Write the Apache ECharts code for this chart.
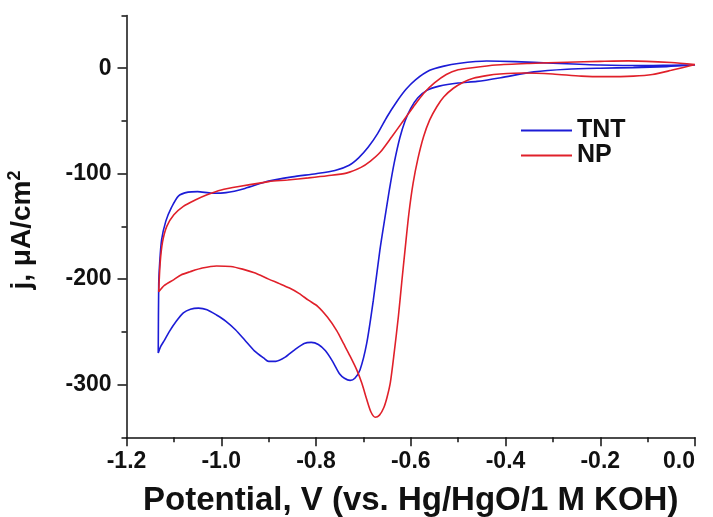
<!DOCTYPE html>
<html>
<head>
<meta charset="utf-8">
<script src="https://cdn.jsdelivr.net/npm/echarts@6/dist/echarts.min.js"></script>
<style>
  html, body { margin: 0; padding: 0; background: #fff; }
  #chart { width: 713px; height: 517px; }
</style>
</head>
<body>
<div id="chart"></div>
<script>
// potential (V) and current density (uA/cm2), each loop traced from 0.0 V
var tntV = [0, -0.05, -0.1, -0.2, -0.3, -0.38, -0.44, -0.5, -0.53, -0.56, -0.59, -0.61, -0.63, -0.65, -0.67, -0.69, -0.71, -0.73, -0.76, -0.8, -0.85, -0.9, -0.95, -0.99, -1.02, -1.05, -1.07, -1.09, -1.105, -1.117, -1.126, -1.13, -1.132, -1.133,
  -1.128, -1.12, -1.11, -1.095, -1.08, -1.065, -1.048, -1.03, -1.01, -0.99, -0.97, -0.95, -0.93, -0.91, -0.9, -0.885, -0.865, -0.845, -0.825, -0.81, -0.795, -0.78, -0.765, -0.75, -0.74, -0.728, -0.718, -0.707, -0.693, -0.679, -0.665, -0.655, -0.645, -0.635, -0.623, -0.612, -0.6, -0.585, -0.566, -0.54, -0.5, -0.46, -0.41, -0.34, -0.27, -0.2, -0.13, -0.06, 0]
var tntJ = [3, 2.8, 2.5, 3, 4.7, 6.3, 6.8, 4.5, 2, -2, -11, -20, -32, -46, -62, -75, -85, -92, -97, -100, -103, -107, -114, -118, -118.5, -117, -117.5, -121, -132, -145, -163, -185, -205, -270,
  -264, -258, -250, -240, -232, -228.5, -227.5, -229, -234, -240, -248, -258, -268, -275, -278, -278, -274, -267, -261, -260, -262, -268, -278, -290, -294, -296, -294, -286, -261, -220, -172, -143, -115, -90, -66, -50, -38, -28, -21, -17, -14, -12.5, -9, -3.5, -1, 0, 0.6, 1.5, 3]

var npV = [0, -0.05, -0.14, -0.2, -0.27, -0.35, -0.42, -0.47, -0.5, -0.525, -0.55, -0.573, -0.595, -0.616, -0.64, -0.665, -0.685, -0.705, -0.736, -0.776, -0.816, -0.86, -0.9, -0.96, -1.0, -1.03, -1.055, -1.08, -1.1, -1.115, -1.124, -1.129, -1.132,
  -1.12, -1.1, -1.085, -1.066, -1.04, -1.01, -0.98, -0.955, -0.93, -0.9, -0.876, -0.856, -0.836, -0.816, -0.796, -0.776, -0.756, -0.742, -0.728, -0.714, -0.703, -0.693, -0.684, -0.675, -0.666, -0.657, -0.65, -0.643, -0.635, -0.626, -0.619, -0.612, -0.604, -0.595, -0.585, -0.573, -0.56, -0.545, -0.53, -0.51, -0.49, -0.468, -0.44, -0.412, -0.36, -0.3, -0.24, -0.19, -0.13, -0.09, -0.05, 0]
var npJ = [3.5, 5.5, 7, 6.5, 5.7, 4.5, 3, 0.5, -1.5, -6, -14, -24, -37, -50, -65, -80, -88, -94, -99.5, -102, -104, -106, -107.5, -112, -115.5, -120, -125, -131, -139, -150, -165, -185, -212,
  -206, -200.5, -196, -193, -189.5, -187.5, -188, -190.5, -194, -200, -204.5, -208.5, -213.5, -220, -226, -236, -249, -261, -273, -286, -299, -314, -326, -331, -329, -322, -312, -298, -270, -235, -203, -172, -138, -109, -86, -65, -49, -36.5, -27, -19, -13.5, -9.5, -7, -5.5, -4.5, -5.5, -7.5, -8, -7.5, -6, -2, 3.5]

var xMajor = [-1.2, -1.0, -0.8, -0.6, -0.4, -0.2, 0]
var xMinor = [-1.1, -0.9, -0.7, -0.5, -0.3, -0.1]
var yMajor = [-300, -200, -100, 0]
var yMinor = [-350, -250, -150, -50, 50]

var pairs = function (xs, ys) {
    return xs.map(function (x, i) { return [x, ys[i]] })
}

var font = 'Liberation Sans, Arial, sans-serif'
var ink = '#111'

var chart = echarts.init(document.getElementById('chart'))
chart.setOption({
    animation: false,
    grid: { left: 126.5, right: 18, top: 15.5, bottom: 79.7, outerBoundsMode: 'none', containLabel: false },
    legend: {
        data: ['TNT', 'NP'],
        orient: 'vertical',
        left: 521, top: 118,
        padding: 0,
        itemGap: 0,
        itemWidth: 51, itemHeight: 2,
        icon: 'rect',
        textStyle: { fontFamily: font, fontWeight: 'bold', fontSize: 25, color: ink, lineHeight: 23 }
    },
    xAxis: [{
        type: 'value', min: -1.2, max: 0,
        axisLine: { onZero: false, lineStyle: { color: ink, width: 1.5 } },
        axisTick: { customValues: xMajor, length: 9, lineStyle: { color: ink, width: 1.5 } },
        axisLabel: {
            customValues: xMajor, margin: 13, color: ink, alignMaxLabel: 'right',
            fontFamily: font, fontWeight: 'bold', fontSize: 23,
            formatter: function (v) { return v.toFixed(1) }
        },
        splitLine: { show: false },
        name: 'Potential, V (vs. Hg/HgO/1 M KOH)',
        nameLocation: 'middle', nameGap: 47,
        nameTextStyle: { fontFamily: font, fontWeight: 'bold', fontSize: 33, color: ink }
    }, {
        type: 'value', min: -1.2, max: 0, position: 'bottom',
        axisLine: { show: false, onZero: false },
        axisTick: { customValues: xMinor, length: 5, lineStyle: { color: ink, width: 1.5 } },
        axisLabel: { show: false },
        splitLine: { show: false }
    }],
    yAxis: [{
        type: 'value', min: -350, max: 50, position: 'left',
        axisLine: { show: true, onZero: false, lineStyle: { color: ink, width: 1.5 } },
        axisTick: { show: true, customValues: yMajor, length: 9, lineStyle: { color: ink, width: 1.5 } },
        axisLabel: {
            customValues: yMajor, margin: 15, color: ink,
            fontFamily: font, fontWeight: 'bold', fontSize: 23
        },
        splitLine: { show: false }
    }, {
        type: 'value', min: -350, max: 50, position: 'left', offset: 0,
        axisLine: { show: false, onZero: false },
        axisTick: { show: true, customValues: yMinor, length: 5, lineStyle: { color: ink, width: 1.5 } },
        axisLabel: { show: false },
        splitLine: { show: false }
    }],
    graphic: [{
        type: 'text',
        x: 22, y: 230,
        rotation: Math.PI / 2,
        style: {
            text: 'j, μA/cm{sup|2}',
            fill: ink,
            font: 'bold 28px ' + font,
            align: 'center', verticalAlign: 'middle',
            rich: {
                sup: { fontSize: 18, fontWeight: 'bold', fontFamily: font, fill: ink, padding: [0, 0, 13, 0] }
            }
        }
    }],
    series: [{
        name: 'TNT', type: 'line',
        data: pairs(tntV, tntJ),
        showSymbol: false, smooth: 0.25,
        color: '#1c1cd6',
        lineStyle: { width: 1.6 }
    }, {
        name: 'NP', type: 'line',
        data: pairs(npV, npJ),
        showSymbol: false, smooth: 0.25,
        color: '#e0202a',
        lineStyle: { width: 1.6 }
    }]
})
</script>
</body>
</html>
